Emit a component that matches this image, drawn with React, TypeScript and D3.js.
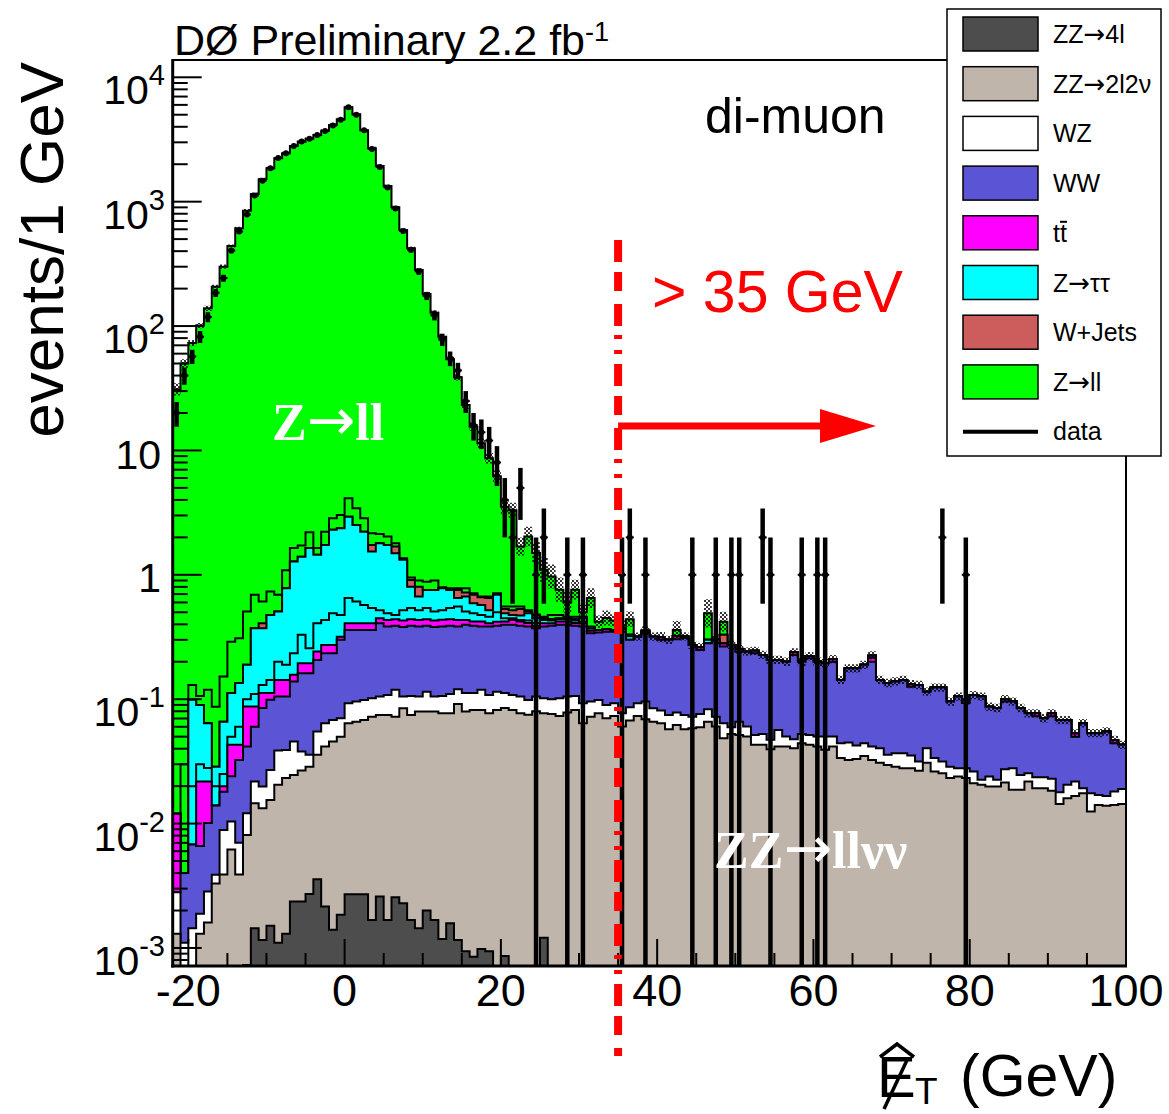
import React from "react";
import * as d3 from "d3";

const _ = null;

// 1 GeV bins from -22 to 100 GeV (122 bins); stacked upper edges (events/1 GeV)
const binLowEdge = -22;
const binHighEdge = 100;

const zz4lTop = [
  0,0,0,0,0,0,0,0,0,0.00073,
  0.00144,0.00116,0.00151,0.0011,0.0013,0.00236,0.00236,0.00272,0.00357,0.00215,
  0.0014,0.00185,0.0027,0.0027,0.0027,0.00168,0.00259,0.00168,0.00256,0.00229,
  0.00168,0.00144,0.002,0.00168,0.00118,0.00158,0.00116,0.00094,0.00085,0.00098,
  0.00094,0,0.00086,0,0,0,0,0.00121,0,0,
  0,0,0,0,0,0,0,0,0,0,
  0,0,0,0,0,0,0,0,0,0,
  0,0,0,0,0,0,0,0,0,0,
  0,0,0,0,0,0,0,0,0,0,
  0,0,0,0,0,0,0,0,0,0,
  0,0,0,0,0,0,0,0,0,0,
  0,0,0,0,0,0,0,0,0,0,
  0,0,
];

const zz2l2vTop = [
  0.0013,0,0,0.0013,0.0016,0.0033,0.0039,0.0062,0.0039,0.0081,
  0.0146,0.0133,0.0155,0.0205,0.0232,0.0246,0.0267,0.0287,0.0357,0.0416,
  0.0456,0.05,0.0641,0.066,0.068,0.0724,0.0748,0.0748,0.0724,0.0847,
  0.0748,0.0795,0.0795,0.0795,0.077,0.077,0.0917,0.0795,0.082,0.082,
  0.077,0.082,0.085,0.082,0.077,0.075,0.08,0.0771,0.0762,0.0734,
  0.078,0.082,0.0641,0.0724,0.0771,0.0703,0.0734,0.0603,0.0673,0.0734,
  0.069,0.066,0.0641,0.0574,0.0621,0.0574,0.0585,0.0596,0.066,0.0603,
  0.0486,0.0526,0.0516,0.0501,0.043,0.043,0.0396,0.0416,0.0416,0.0404,
  0.0443,0.043,0.0416,0.0392,0.0416,0.0336,0.0325,0.033,0.035,0.0325,
  0.0309,0.0296,0.0287,0.0279,0.0279,0.0266,0.0309,0.0262,0.0254,0.0232,
  0.0239,0.0232,0.0211,0.0205,0.0199,0.0199,0.0214,0.0187,0.0187,0.0218,
  0.0192,0.0192,0.0184,0.0144,0.016,0.0167,0.0175,0.0125,0.0141,0.0139,
  0.0141,0.0144,
];

const wzTop = [
  0.0028,0.0011,0.00144,0.00188,0.00284,0.00387,0.0089,0.0104,0.007,0.0121,
  0.0218,0.0199,0.027,0.0386,0.039,0.0456,0.0379,0.0357,0.055,0.0641,
  0.068,0.0703,0.0929,0.0957,0.0987,0.102,0.105,0.108,0.119,0.105,
  0.106,0.105,0.115,0.105,0.106,0.11,0.12,0.112,0.112,0.119,
  0.108,0.115,0.112,0.108,0.105,0.0987,0.105,0.102,0.1,0.102,
  0.105,0.106,0.0929,0.0957,0.0987,0.09,0.0929,0.0771,0.0863,0.0929,
  0.0957,0.0847,0.081,0.0748,0.078,0.0748,0.0724,0.0762,0.0832,0.0724,
  0.0641,0.0596,0.066,0.0603,0.0516,0.0526,0.0471,0.0566,0.0501,0.0477,
  0.0526,0.0516,0.0501,0.0501,0.0501,0.0443,0.0449,0.0425,0.0443,0.0416,
  0.0404,0.0357,0.0368,0.0368,0.0353,0.0315,0.0404,0.0336,0.0315,0.0287,
  0.0279,0.0279,0.0262,0.0225,0.0239,0.0225,0.0273,0.0279,0.0246,0.0254,
  0.0236,0.0236,0.0229,0.0179,0.0205,0.0218,0.0192,0.0175,0.017,0.0167,
  0.0181,0.019,
];

const wwTop = [
  0.0028,0.004,0.0068,0.0066,0.0101,0.014,0.018,0.024,0.0325,0.0416,
  0.06,0.085,0.099,0.105,0.105,0.139,0.162,0.162,0.207,0.234,
  0.234,0.3,0.36,0.36,0.36,0.36,0.408,0.384,0.39,0.38,
  0.39,0.384,0.39,0.38,0.385,0.39,0.384,0.396,0.39,0.384,
  0.384,0.39,0.396,0.396,0.39,0.384,0.372,0.384,0.39,0.396,
  0.396,0.39,0.384,0.339,0.343,0.349,0.349,0.349,0.3,0.318,
  0.339,0.318,0.3,0.3,0.303,0.31,0.273,0.249,0.282,0.3,
  0.265,0.273,0.241,0.241,0.234,0.227,0.207,0.207,0.2,0.227,
  0.2,0.213,0.2,0.195,0.2,0.143,0.177,0.177,0.189,0.2,
  0.143,0.135,0.139,0.143,0.126,0.13,0.115,0.124,0.124,0.0957,
  0.105,0.093,0.108,0.105,0.087,0.085,0.0957,0.0957,0.085,0.077,
  0.073,0.0703,0.073,0.068,0.068,0.05,0.0641,0.0533,0.0533,0.055,
  0.0443,0.043,
];

const ttbarTop = [
  0.012,_,_,0.0218,0.0218,_,0.02,0.043,0.043,0.0873,
  0.0873,0.112,0.112,0.143,0.143,0.157,0.195,0.195,0.242,0.273,
  0.273,0.318,0.408,0.408,0.408,0.408,0.448,0.434,0.44,0.43,
  0.44,0.434,0.44,0.43,0.435,0.44,0.434,0.434,0.421,0.421,
  0.408,0.42,0.421,0.434,0.421,0.41,0.39,0.408,0.408,0.421,
  0.421,0.41,0.408,0.355,0.36,0.365,0.36,0.37,_,_,
  0.355,_,0.315,_,0.32,_,_,0.262,_,_,
  0.28,_,0.252,_,0.245,_,_,_,_,0.238,
  _,0.222,_,_,0.21,_,_,_,_,0.215,
  _,_,_,_,0.132,_,_,_,_,_,
  _,0.098,_,_,_,_,0.1,_,_,_,
  0.077,_,0.077,_,_,0.053,_,_,_,_,
  0.047,_,
];

const ztautauLowTop = [
  _,_,0.02,0.03,0.028,0.02,0.025,0.05,0.06,0.1,
  0.11,0.13,0.143,0.2,0.189,0.234,0.329,0.257,0.408,0.434,
  0.49,0.476,0.65,0.61,0.573,0.54,0.52,0.49,0.476,0.52,
  0.54,0.52,0.54,0.506,0.52,0.54,0.556,0.506,0.49,0.476,
  0.461,0.5,0.448,0.448,0.434,0.43,0.41,0.434,0.43,0.44,
  0.44,0.43,0.42,_,_,_,_,_,0.32,_,
  _,_,_,_,_,_,_,_,_,_,
  _,_,_,_,_,_,_,_,_,_,
  _,_,_,_,_,_,_,_,_,_,
  _,_,_,_,_,_,_,_,_,_,
  _,_,_,_,_,_,_,_,_,_,
  _,_,_,_,_,_,_,_,_,_,
  _,_,
];

const ztautauHighTop = [
  _,_,0.099,0.09,0.064,0.0287,0.066,0.112,0.135,0.189,
  0.372,0.372,0.476,0.506,0.78,1.28,1.4,1.64,1.45,1.74,
  2.3,2.37,2.93,2.52,2.22,1.54,1.79,1.74,1.49,1.32,
  0.8,0.668,0.756,0.756,0.78,0.756,0.65,0.67,0.59,0.573,
  0.52,0.69,0.49,0.476,0.47,0.49,0.448,0.448,0.44,0.448,
  0.448,0.44,0.448,0.37,_,_,_,_,0.33,_,
  _,_,_,_,_,0.32,_,_,0.3,_,
  _,_,_,_,_,_,_,_,_,_,
  _,_,_,_,_,_,_,_,_,_,
  _,_,_,_,_,_,_,_,_,_,
  _,_,_,_,_,_,_,_,_,_,
  _,_,_,_,_,_,_,_,_,_,
  _,_,
];

const wjetsTop = [
  _,_,_,_,_,_,_,_,_,_,
  _,0.408,_,_,_,_,_,_,_,_,
  _,_,_,_,_,1.74,_,_,1.69,_,
  0.91,0.8,_,_,_,_,0.756,0.72,0.69,0.66,
  0.65,_,0.53,0.52,0.53,0.51,0.47,_,_,_,
  _,_,_,_,_,_,_,_,_,_,
  _,_,_,_,_,_,_,_,_,_,
  0.33,_,_,_,_,_,_,_,_,_,
  _,_,_,_,_,_,_,_,_,0.225,
  _,_,_,_,_,_,_,_,_,_,
  _,_,_,_,_,_,_,_,_,_,
  _,_,_,_,_,_,_,_,_,_,
  _,_,
];

const zllLowTop = [
  _,0.03,0.13,0.106,0.119,0.087,0.152,0.29,0.309,0.506,
  0.69,0.61,0.733,0.69,1.09,1.64,1.72,2.2,1.64,2.22,
  2.85,3.03,4.13,3.43,2.85,2.16,2.13,2.03,1.79,1.36,
  0.95,0.9,0.88,0.9,0.795,0.78,0.78,0.78,0.71,0.668,
  0.668,0.71,0.556,0.556,0.556,0.52,0.48,0.461,0.476,0.476,
  0.461,0.461,0.461,0.384,_,_,_,_,_,_,
  _,_,_,_,_,_,_,_,_,_,
  _,_,_,_,_,_,_,_,_,_,
  _,_,_,_,_,_,_,_,_,_,
  _,_,_,_,_,_,_,_,_,_,
  _,_,_,_,_,_,_,_,_,_,
  _,_,_,_,_,_,_,_,_,_,
  _,_,
];

const zllTop = [
  31,50,73,101,139,207,300,440,611,847,
  1153,1514,1857,2235,2450,2806,3037,3210,3436,3722,
  4139,4595,5741,5045,3750,2688,1936,1336,902,592,
  422,282,181,128,82,54,38.7,23.2,15.5,11.4,
  8.65,6.2,3.53,3.3,1.69,2.03,1.5,1.1,0.97,0.76,
  0.6,0.76,0.5,0.65,0.42,0.45,0.43,0.39,0.44,_,
  _,_,_,_,0.36,_,_,_,0.49,_,
  0.42,_,_,_,_,_,_,_,_,_,
  _,_,_,_,_,_,_,_,_,_,
  _,_,_,_,_,_,_,_,_,_,
  _,_,_,_,_,_,_,_,_,_,
  _,_,_,_,_,_,_,_,_,_,
  _,_,
];

// relative MC uncertainty (hatched band)
const mcRelErr = [
  0.12,0.08,0.06,0.05,0.05,0.04,0.04,0.03,0.03,0.03,
  0.03,0.03,0.03,0.03,0.03,0.03,0.03,0.03,0.03,0.03,
  0.03,0.03,0.03,0.03,0.03,0.03,0.03,0.03,0.03,0.03,
  0.03,0.03,0.04,0.04,0.05,0.05,0.06,0.07,0.08,0.09,
  0.1,0.12,0.15,0.15,0.18,0.2,0.22,0.25,0.25,0.25,
  0.22,0.2,0.15,0.2,0.12,0.15,0.12,0.1,0.15,0.08,
  0.08,0.08,0.1,0.08,0.18,0.08,0.08,0.08,0.3,0.08,
  0.2,0.08,0.08,0.08,0.08,0.08,0.08,0.08,0.08,0.08,
  0.08,0.08,0.08,0.08,0.08,0.08,0.08,0.08,0.08,0.08,
  0.08,0.08,0.08,0.08,0.08,0.08,0.08,0.08,0.08,0.08,
  0.08,0.08,0.08,0.08,0.08,0.08,0.08,0.08,0.08,0.08,
  0.08,0.08,0.08,0.08,0.08,0.08,0.08,0.08,0.08,0.08,
  0.08,0.08,
];

// observed events per bin
const dataCounts = [
  20,40,57,82,118,185,243,405,575,790,
  1120,1470,1860,2240,2450,2800,3040,3200,3430,3700,
  4100,4550,5750,5000,3750,2650,1900,1300,880,580,
  410,275,175,122,78,55,44,25,16,14,
  12,8,4,2,5,0,1,2,0,0,
  1,0,1,0,0,0,0,1,2,0,
  1,0,0,0,0,0,1,0,0,1,
  0,1,1,0,0,2,1,0,0,0,
  1,0,1,1,0,0,0,0,0,0,
  0,0,0,0,0,0,0,0,2,0,
  0,1,0,0,0,0,0,0,0,0,
  0,0,0,0,0,0,0,0,0,0,
  0,0,
];

const stackLayers = [
  { key: "zz4l", values: zz4lTop, color: "#4d4d4d" },
  { key: "zz2l2v", values: zz2l2vTop, color: "#c0b5ab" },
  { key: "wz", values: wzTop, color: "#ffffff" },
  { key: "ww", values: wwTop, color: "#5b55d6" },
  { key: "ttbar", values: ttbarTop, color: "#ff00ff" },
  { key: "ztautau1", values: ztautauLowTop, color: "#00ffff" },
  { key: "ztautau2", values: ztautauHighTop, color: "#00ffff" },
  { key: "wjets", values: wjetsTop, color: "#cd5c5c" },
  { key: "zll1", values: zllLowTop, color: "#00ff00" },
  { key: "zll2", values: zllTop, color: "#00ff00" },
];

// legend label parts: [before arrow, after arrow] (null = no arrow)
const legendLabels: [string, string | null][] = [
  ["ZZ", "4l"],
  ["ZZ", "2l2ν"],
  ["WZ", null],
  ["WW", null],
  ["tt", null],
  ["Z", "ττ"],
  ["W+Jets", null],
  ["Z", "ll"],
];
const legendColors = ["#4d4d4d", "#c0b5ab", "#ffffff", "#5b55d6", "#ff00ff", "#00ffff", "#cd5c5c", "#00ff00"];

const xTickLabels = [-20, 0, 20, 40, 60, 80, 100];
const yDecades = [-3, -2, -1, 0, 1, 2, 3, 4];
const cutValue = 35;

const FONT = "'Liberation Sans', Arial, Helvetica, sans-serif";
const SERIF = "'Liberation Serif', 'Times New Roman', serif";
const ARROWFONT = "'DejaVu Sans', sans-serif";

export default function App() {
  const L = 172.7, R = 1126, T = 60, B = 966;
  const yMin = Math.pow(10, -3.145);
  const yMax = Math.pow(10, 4.139);
  const x = d3.scaleLinear().domain([binLowEdge, binHighEdge]).range([L, R]);
  const y = d3.scaleLog().domain([yMin, yMax]).range([B, T]);
  const yc = (v: number) => y(Math.max(v, yMin));
  const nBins = binHighEdge - binLowEdge;

  const tops: number[][] = [];
  stackLayers.forEach((layer, k) => {
    const arr: number[] = [];
    for (let i = 0; i < nBins; i++) {
      const v = layer.values[i];
      arr.push(v === null || v === undefined ? (k > 0 ? tops[k - 1][i] : 0) : (v as number));
    }
    tops.push(arr);
  });

  const area = d3
    .area<[number, number]>()
    .x((d) => x(d[0]))
    .y0(B)
    .y1((d) => yc(d[1]))
    .curve(d3.curveStepAfter);

  const layerPath = (arr: number[]) => {
    const pts: [number, number][] = arr.map((v, i) => [binLowEdge + i, v]);
    pts.push([binHighEdge, arr[arr.length - 1]]);
    return area(pts) || "";
  };

  const total = tops[tops.length - 1];

  let hatch = "";
  total.forEach((v, i) => {
    if (v <= yMin) return;
    const e = mcRelErr[i];
    const x0 = x(binLowEdge + i), x1 = x(binLowEdge + i + 1);
    const y0 = yc(v * (1 + e)), y1 = yc(v / (1 + e));
    hatch += `M${x0},${y0}H${x1}V${y1}H${x0}Z`;
  });

  const majorTicks = yDecades.map((k) => Math.pow(10, k));
  const minorTicks: number[] = [];
  for (let k = -4; k <= 4; k++) {
    for (let m = 2; m <= 9; m++) {
      const v = m * Math.pow(10, k);
      if (v > yMin && v < yMax) minorTicks.push(v);
    }
  }
  const xMinor: number[] = [];
  for (let v = -20; v <= 100; v += 5) if (v % 20 !== 0) xMinor.push(v);

  const legX = 947, legY = 9, legW = 214, legH = 447;
  const entryH = 49.7;

  return (
    <div style={{ position: "absolute", left: 0, top: 0 }}>
      <svg width={1169} height={1114} style={{ display: "block", background: "#fff" }} fontFamily={FONT}>
        <defs>
          <clipPath id="plot">
            <rect x={L} y={T} width={R - L} height={B - T} />
          </clipPath>
          <clipPath id="leg">
            <rect x={legX} y={legY} width={legW} height={legH} />
          </clipPath>
          <pattern id="chk" width={4} height={4} patternUnits="userSpaceOnUse">
            <rect x={0} y={0} width={2} height={2} fill="#000" />
            <rect x={2} y={2} width={2} height={2} fill="#000" />
          </pattern>
        </defs>
        <rect x={0} y={0} width={1169} height={1114} fill="#fff" />

        <g clipPath="url(#plot)">
          {stackLayers
            .map((layer, k) => ({ layer, k }))
            .reverse()
            .map(({ layer, k }) => (
              <path
                key={layer.key}
                d={layerPath(tops[k])}
                fill={layer.color}
                stroke="#000"
                strokeWidth={2}
              />
            ))}
          <path d={hatch} fill="url(#chk)" opacity={0.8} />
          {dataCounts.map((n, i) => {
            if (n <= 0) return null;
            const cx = x(binLowEdge + i + 0.5);
            const s = Math.sqrt(n);
            const lo = n - s;
            const yLo = lo > yMin ? y(lo) : B + 5;
            const yHi = y(n + s);
            return (
              <g key={"d" + i}>
                <line x1={cx} x2={cx} y1={yHi} y2={yLo} stroke="#000" strokeWidth={4.5} />
                <line x1={cx - 4} x2={cx + 4} y1={y(n)} y2={y(n)} stroke="#000" strokeWidth={2} />
                <circle cx={cx} cy={y(n)} r={3} fill="#000" />
              </g>
            );
          })}
        </g>

        <line x1={L} x2={R} y1={T} y2={T} stroke="#000" strokeWidth={2} />
        <line x1={R} x2={R} y1={T} y2={B} stroke="#000" strokeWidth={2} />
        <line x1={L} x2={L} y1={T - 1} y2={B + 1.5} stroke="#000" strokeWidth={3} />
        <line x1={L - 1.5} x2={R + 1} y1={B} y2={B} stroke="#000" strokeWidth={3} />

        {majorTicks.map((v) => (
          <line key={"ym" + v} x1={L} x2={L + 29} y1={y(v)} y2={y(v)} stroke="#000" strokeWidth={2} />
        ))}
        {minorTicks.map((v) => (
          <line key={"yn" + v} x1={L} x2={L + 15} y1={y(v)} y2={y(v)} stroke="#000" strokeWidth={2} />
        ))}
        {yDecades.map((k) => {
          const ty = y(Math.pow(10, k));
          if (k === 0) return <text key={"yl" + k} x={161} y={ty + 17} fontSize={41} textAnchor="end">1</text>;
          if (k === 1) return <text key={"yl" + k} x={161} y={ty + 19} fontSize={41} textAnchor="end">10</text>;
          return (
            <text key={"yl" + k} x={165} y={ty + 27} fontSize={41} textAnchor="end">
              10<tspan dy={-19} fontSize={29}>{String(k)}</tspan>
            </text>
          );
        })}

        {xTickLabels.map((v) => (
          <line key={"xm" + v} x1={x(v)} x2={x(v)} y1={B} y2={B - 27} stroke="#000" strokeWidth={2} />
        ))}
        {xMinor.map((v) => (
          <line key={"xn" + v} x1={x(v)} x2={x(v)} y1={B} y2={B - 13} stroke="#000" strokeWidth={2} />
        ))}
        {xTickLabels.map((v) => (
          <text key={"xl" + v} x={x(v)} y={1006} fontSize={45} textAnchor="middle">{String(v)}</text>
        ))}

        <text transform="translate(63,62) rotate(-90)" fontSize={62} textAnchor="end">events/1 GeV</text>
        <text x={877} y={1097} fontSize={58}>E</text>
        <line x1={884} y1={1109} x2={908} y2={1058} stroke="#000" strokeWidth={3.5} />
        <polyline points="880,1057 897,1044 914,1057" fill="none" stroke="#000" strokeWidth={3.5} />
        <text x={915} y={1104} fontSize={37}>T</text>
        <text x={960} y={1096} fontSize={59}>(GeV)</text>

        <text x={174} y={55} fontSize={43}>
          DØ Preliminary 2.2 fb<tspan dy={-14} fontSize={27}>-1</tspan>
        </text>

        <text x={705} y={133} fontSize={50}>di-muon</text>
        <text x={652} y={312} fontSize={59} fill="#ff0000">&gt; 35 GeV</text>
        <text x={272} y={440} fontSize={52} fontWeight="bold" fontFamily={SERIF} fill="#fff">
          Z<tspan fontFamily={ARROWFONT} fontSize={58} fontWeight="normal">→</tspan>ll
        </text>
        <text x={714} y={868} fontSize={52} fontWeight="bold" fontFamily={SERIF} fill="#fff">
          ZZ<tspan fontFamily={ARROWFONT} fontSize={58} fontWeight="normal">→</tspan>llνν
        </text>

        <line
          x1={x(cutValue)}
          x2={x(cutValue)}
          y1={240}
          y2={1056}
          stroke="#ff0000"
          strokeWidth={8}
          strokeDasharray="22 10 19 13 22 9 4 11 4 10"
        />
        <line x1={x(cutValue)} x2={826} y1={426} y2={426} stroke="#ff0000" strokeWidth={7} />
        <polygon points="820,409 876,426 820,443" fill="#ff0000" />

        <rect x={legX} y={legY} width={legW} height={legH} fill="#fff" stroke="none" />
        <g clipPath="url(#leg)">
          {legendLabels.map((lab, k) => {
            const by = 17 + entryH * k;
            return (
              <g key={"lg" + k}>
                <rect x={963} y={by} width={75} height={34} fill={legendColors[k]} stroke="#000" strokeWidth={1.5} />
                {lab[0] === "tt" ? (
                  <g>
                    <text x={1053} y={by + 26} fontSize={25}>tt</text>
                    <line x1={1060} x2={1067} y1={by + 6} y2={by + 6} stroke="#000" strokeWidth={2} />
                  </g>
                ) : lab[1] === null ? (
                  <text x={1053} y={by + 26} fontSize={25}>{lab[0]}</text>
                ) : (
                  <text x={1053} y={by + 26} fontSize={25}>
                    {lab[0]}
                    <tspan fontFamily={ARROWFONT} fontSize={26}>→</tspan>
                    {lab[1]}
                  </text>
                )}
              </g>
            );
          })}
          <line x1={963} x2={1038} y1={431.7} y2={431.7} stroke="#000" strokeWidth={4} />
          <text x={1053} y={440} fontSize={25}>data</text>
        </g>
        <rect x={legX} y={legY} width={legW} height={legH} fill="none" stroke="#000" strokeWidth={1.5} />
      </svg>
    </div>
  );
}
